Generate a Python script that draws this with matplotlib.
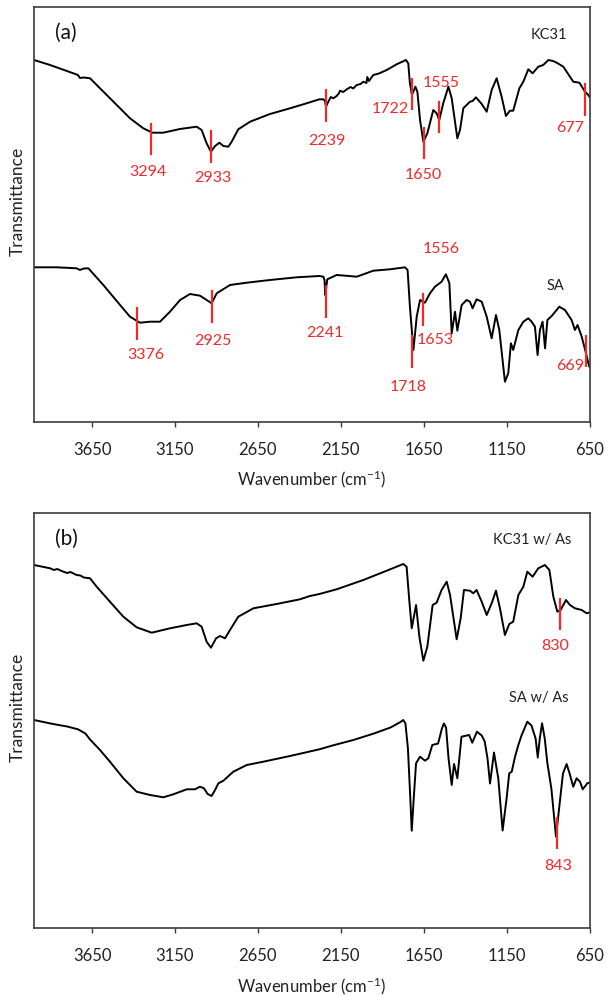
import matplotlib
matplotlib.use('Agg')
import matplotlib.pyplot as plt

plt.rcParams['font.family'] = ['Lato', 'DejaVu Sans']
plt.rcParams['mathtext.default'] = 'regular'

# ---------------- data (wavenumber in cm-1, transmittance in arbitrary units) ----------------
kc31_wn = [4000, 3903, 3763, 3735, 3723, 3700, 3662, 3602, 3501, 3421, 3341, 3286, 3220, 3120,
           3019, 2989, 2959, 2933, 2908, 2882, 2858, 2828, 2808, 2768, 2697, 2577, 2456, 2356,
           2279, 2255, 2245, 2239, 2232, 2225, 2210, 2195, 2175, 2160, 2155, 2135, 2114, 2090,
           2075, 2054, 2030, 2014, 1995, 1990, 1980, 1954, 1920, 1873, 1813, 1757, 1743, 1733,
           1721, 1700, 1688, 1672, 1652, 1628, 1592, 1572, 1556, 1532, 1501, 1481, 1447, 1431,
           1411, 1371, 1355, 1335, 1300, 1270, 1240, 1210, 1180, 1154, 1130, 1110, 1073, 1049,
           1019, 993, 959, 929, 898, 870, 848, 808, 748, 711, 677, 657, 650]
kc31_t = [395, 390, 381.7, 380, 377, 377.5, 376.7, 366.7, 350, 336.7, 326.7, 322.3, 322.3, 326,
          328.3, 325, 311.7, 303.3, 309, 312.3, 309, 308.3, 313.3, 325.7, 333.3, 341, 346.7, 351.7,
          355.7, 355.7, 354, 348.3, 351, 353.3, 358, 356.7, 359, 362, 364.3, 363, 365.7, 368,
          366.5, 370, 371, 373.3, 372, 378, 374, 380, 381.5, 385, 390.7, 395, 391.7, 371.7,
          360, 368.3, 363.3, 335, 313.3, 321.7, 345, 341.7, 335, 351.7, 368.3, 356.7, 316.7, 325,
          346.7, 353.3, 354, 357.7, 351, 343.3, 365, 376.7, 358.3, 339, 344.3, 344.3, 366.7, 373.3,
          385.7, 381.7, 388.3, 390, 395, 394, 392.3, 388.3, 373.3, 372.3, 363.3, 360, 358]

sa_wn = [4000, 3863, 3743, 3723, 3700, 3672, 3582, 3481, 3421, 3361, 3300, 3240, 3180, 3119,
         3059, 2999, 2959, 2929, 2898, 2818, 2717, 2577, 2416, 2279, 2255, 2248, 2243, 2236, 2231,
         2175, 2100, 2054, 2000, 1954, 1853, 1763, 1747, 1733, 1712, 1692, 1672, 1642, 1612, 1582,
         1542, 1516, 1495, 1481, 1461, 1447, 1421, 1391, 1371, 1355, 1331, 1300, 1270, 1240, 1214,
         1194, 1160, 1140, 1124, 1110, 1079, 1049, 1019, 999, 979, 963, 949, 933, 918, 904, 878,
         832, 798, 758, 738, 722, 697, 671, 657, 650]
sa_t = [187.7, 187.7, 186.7, 185, 186.5, 186.7, 170, 150, 138.3, 132.3, 133.3, 133.3, 143.3, 155,
        161, 159.3, 155, 151.7, 161.7, 170, 172.3, 175, 177.7, 179, 178.3, 175, 160, 170, 175.7,
        180, 179, 178.3, 181.5, 184.3, 185.7, 187.7, 185, 148.3, 105, 138.3, 155, 152.3, 161.7, 168.3,
        173.3, 180.7, 171.7, 121.7, 143.3, 124.3, 150, 155, 153.3, 146.7, 155.7, 153.3, 138.3, 116.7, 140,
        125, 73.3, 81.7, 111.7, 105, 125, 133.3, 136.7, 133.3, 128.3, 100, 125, 133.3, 106.7, 135, 139,
        148.3, 145, 135, 125, 130, 118.3, 101.7, 91.7, 88]

kc31as_wn = [4000, 3903, 3880, 3860, 3823, 3800, 3780, 3743, 3720, 3700, 3662, 3622, 3542, 3461,
             3381, 3290, 3180, 3079, 3019, 2989, 2959, 2933, 2902, 2878, 2848, 2818, 2768, 2677,
             2537, 2396, 2336, 2279, 2175, 2014, 1873, 1773, 1753, 1737, 1722, 1696, 1676, 1652,
             1628, 1596, 1572, 1542, 1511, 1491, 1451, 1427, 1407, 1371, 1351, 1331, 1300, 1270,
             1240, 1214, 1190, 1160, 1134, 1110, 1079, 1049, 1025, 993, 959, 919, 892, 868, 844,
             824, 792, 768, 738, 697, 667, 650]
kc31as_t = [398.5, 395.2, 393.5, 394.5, 391.8, 390.5, 391.5, 388.5, 388, 386, 385.2, 376.8, 361.8, 346.8,
            336.2, 330.8, 335.2, 338.5, 340.2, 336.8, 321.8, 315.8, 325.2, 327.5, 325.2, 333.5, 346.8, 355.2,
            359.5, 364.2, 367.5, 369.5, 374.2, 383.5, 392.8, 399.5, 396.8, 363.5, 335.2, 358.5, 326.8, 302.8,
            316.8, 358.5, 360.8, 373.5, 381.8, 368.5, 324.2, 345.2, 373.5, 372.8, 370.2, 373.5, 361.8, 348.5,
            360.2, 372.8, 355.2, 328.5, 339.5, 341.8, 368.5, 376.8, 391.8, 386.8, 395.2, 398.5, 393.5, 366.8,
            351.8, 353.5, 363.5, 358.5, 355.2, 353.5, 350.2, 351]

saas_wn = [4000, 3900, 3852, 3800, 3735, 3690, 3662, 3602, 3542, 3461, 3381, 3300, 3220, 3160, 3079,
           3029, 2999, 2975, 2953, 2929, 2908, 2888, 2858, 2798, 2717, 2617, 2456, 2279, 2200, 2074,
           1950, 1850, 1790, 1773, 1760, 1745, 1732, 1722, 1710, 1696, 1672, 1642, 1622, 1598, 1563,
           1540, 1528, 1515, 1500, 1481, 1467, 1447, 1422, 1376, 1357, 1329, 1300, 1282, 1265, 1250,
           1226, 1200, 1174, 1150, 1134, 1119, 1099, 1079, 1060, 1025, 1000, 975, 962, 950, 936, 920,
           904, 880, 852, 830, 810, 788, 770, 748, 728, 707, 691, 663, 650]
saas_t = [243.5, 240, 238.5, 237, 234.2, 230, 224, 213.5, 201.8, 185.2, 171.8, 168.5, 166.2, 169.2, 174.2,
          174.2, 176.8, 175.2, 169.5, 167.5, 173.5, 180.2, 182.8, 191.8, 198.5, 201.8, 207.5, 214.2, 218, 223.5,
          230, 236, 241.5, 243.5, 240, 215, 170, 132.8, 165, 200.2, 206.8, 202.8, 205.2, 218.5, 220,
          235, 240, 236, 205, 178.5, 199.5, 185.2, 226.8, 228.5, 220.8, 231.8, 228, 222, 205, 180,
          211, 185, 133, 165, 190.2, 191.8, 206.8, 218.5, 228, 241.8, 238, 225, 206, 225, 240.2, 225,
          200.2, 175, 126.8, 160, 190, 199.5, 190, 176.8, 185.2, 181.8, 174.2, 180.2, 181]

# peak markers: wavenumber, marker bottom, marker top
a_peaks = [3294, 2933, 2239, 1722, 1650, 1555, 677, 3376, 2925, 2241, 1718, 1653, 669]
a_peak_lo = [300, 292.3, 333.3, 345, 296, 321.7, 339, 115, 132.3, 136.7, 87.3, 129, 88.3]
a_peak_hi = [332.3, 325, 365.7, 376.7, 327.7, 354.3, 371.7, 148.3, 165, 170, 120, 161.7, 120]
a_labels = ['3294', '2933', '2239', '1722', '1650', '1555', '677',
            '3376', '2925', '2241', '1718', '1653', '1556', '669']
a_label_x = [3310, 2919, 2233, 1851, 1652, 1544, 770, 3327, 2919, 2245, 1745, 1580, 1544, 768]
a_label_y = [282.7, 276.7, 314, 346, 280, 371.7, 326.7, 100, 114, 122.3, 68.3, 115, 205.7, 89]

b_peaks = [830, 843]
b_peak_lo = [333.5, 114.2]
b_peak_hi = [365.8, 146.8]
b_labels = ['830', '843']
b_label_x = [856, 836]
b_label_y = [317.5, 97.5]

xticks = [3650, 3150, 2650, 2150, 1650, 1150, 650]

RED = '#f02a2a'
SPINE = '#3c3c3c'

fig = plt.figure(figsize=(6.08, 9.96), dpi=100)
ax_a = fig.add_axes([34 / 608, 1 - 421.7 / 996, 555.5 / 608, 414.4 / 996])
ax_b = fig.add_axes([34 / 608, 1 - 928.3 / 996, 555.5 / 608, 415.6 / 996])


def style(ax, ylim):
    ax.set_xlim(4000, 650)
    ax.set_ylim(*ylim)
    ax.set_xticks(xticks)
    ax.set_xticklabels([str(t) for t in xticks])
    ax.set_yticks([])
    for s in ax.spines.values():
        s.set_color(SPINE)
        s.set_linewidth(1.2)
    ax.tick_params(axis='x', direction='out', length=3.5, width=1.0, color=SPINE,
                   pad=11, labelsize=12, labelcolor='#222222')
    ax.set_xlabel('Wavenumber (cm$^{-1}$)', fontsize=12, color='#222222', labelpad=8)


style(ax_a, (33.3, 447.7))
style(ax_b, (35.2, 450.8))

line_kw = dict(color='black', lw=1.4, solid_joinstyle='round', solid_capstyle='round')
ax_a.plot(kc31_wn, kc31_t, **line_kw)
ax_a.plot(sa_wn, sa_t, **line_kw)
ax_b.plot(kc31as_wn, kc31as_t, **line_kw)
ax_b.plot(saas_wn, saas_t, **line_kw)

ax_a.vlines(a_peaks, a_peak_lo, a_peak_hi, color=RED, lw=1.6)
for t, x, y in zip(a_labels, a_label_x, a_label_y):
    ax_a.text(x, y, t, color=RED, fontsize=11.5, ha='center', va='center')
ax_b.vlines(b_peaks, b_peak_lo, b_peak_hi, color=RED, lw=1.6)
for t, x, y in zip(b_labels, b_label_x, b_label_y):
    ax_b.text(x, y, t, color=RED, fontsize=11.5, ha='center', va='center')

ax_a.text(3807, 422, '(a)', fontsize=15, ha='center', va='center', color='#111111')
ax_b.text(3807, 425, '(b)', fontsize=15, ha='center', va='center', color='#111111')
ax_a.text(896, 420, 'KC31', fontsize=10.5, ha='center', va='center', color='#222222')
ax_a.text(858, 169, 'SA', fontsize=10.5, ha='center', va='center', color='#222222')
ax_b.text(996, 423.5, 'KC31 w/ As', fontsize=10.5, ha='center', va='center', color='#222222')
ax_b.text(954, 265.2, 'SA w/ As', fontsize=10.5, ha='center', va='center', color='#222222')

fig.text(17.5 / 608, 1 - 201 / 996, 'Transmittance', rotation=90, ha='center', va='center',
         fontsize=12.5, color='#222222')
fig.text(17.5 / 608, 1 - 707 / 996, 'Transmittance', rotation=90, ha='center', va='center',
         fontsize=12.5, color='#222222')

fig.savefig('out.png', dpi=100)
